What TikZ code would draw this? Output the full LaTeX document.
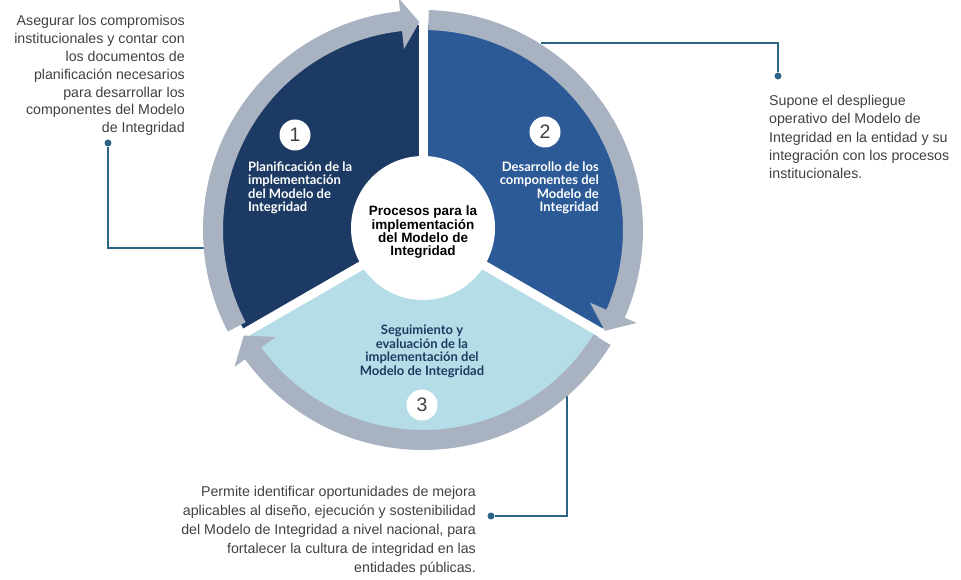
\documentclass[tikz,border=0pt]{standalone}
\usepackage{fontspec}
\setmainfont{Liberation Sans}
\newfontfamily\latofont{Lato}
\definecolor{secA}{HTML}{1C3A63}
\definecolor{secB}{HTML}{2B5A96}
\definecolor{secC}{HTML}{B5DDE8}
\definecolor{ringcol}{HTML}{A8B2C0}
\definecolor{navytxt}{HTML}{1F3A60}
\definecolor{linkcol}{HTML}{2C6487}
\definecolor{notetxt}{HTML}{404040}
\newcommand\ringarrow[3]{%
  \fill[ringcol] (#1:220) arc[start angle=#1, end angle=#2, radius=220pt]
    -- (#2:233) -- (#3:208) -- (#2:182) -- (#2:200)
    arc[start angle=#2, end angle=#1, radius=200pt] -- cycle;}
\tikzset{
  gapline/.style={white, line width=9pt},
  numcirc/.style={circle, fill=white, minimum size=31pt, inner sep=0pt,
    text=notetxt, font=\fontsize{19.5}{19.5}\selectfont},
  sectxt/.style={inner sep=0pt, font=\latofont\bfseries\fontsize{13}{13.5}\selectfont},
  notetext/.style={inner sep=0pt, text=notetxt},
  link/.style={linkcol, line width=1.6pt},
  linkdot/.style={circle, fill=linkcol, minimum size=7pt, inner sep=0pt}
}
\begin{document}
\begin{tikzpicture}[x=1pt,y=1pt]
\useasboundingbox (0,0) rectangle (961,580);
% connectors (behind the ring)
\node[linkdot] (ldot) at (108,437) {};
\coordinate (lend) at (206,332);
\draw[link] (ldot) |- (lend);
\node[linkdot] (rdot) at (778,504) {};
\coordinate (rend) at (541,537);
\draw[link] (rdot) |- (rend);
\node[linkdot] (bdot) at (491,64) {};
\coordinate (bend) at (567,186);
\draw[link] (bdot) -| (bend);
\begin{scope}[shift={(423,350)}]
  % sectors
  \fill[secA] (0,0) -- (90:205) arc[start angle=90, end angle=210, radius=205pt] -- cycle;
  \fill[secB] (0,0) -- (-30:205) arc[start angle=-30, end angle=90, radius=205pt] -- cycle;
  \fill[secC] (0,0) -- (210:205) arc[start angle=210, end angle=330, radius=205pt] -- cycle;
  \draw[gapline] (0,0) -- (90:207);
  \draw[gapline] (0,0) -- (-30:207);
  \draw[gapline] (0,0) -- (210:207);
  \fill[white] (0,2) circle[radius=72pt];
  % ring arrows
  \ringarrow{207.5}{96}{91}
  \ringarrow{88.5}{-23.5}{-29}
  \ringarrow{-31.5}{-144}{-149.5}
\end{scope}
% number badges
\node[numcirc] (n1) at (295,445) {1};
\node[numcirc] (n2) at (545,448) {2};
\node[numcirc] (n3) at (422,175) {3};
% sector texts
\node[sectxt, text=white, align=left, anchor=north west] (t1) at (248,418.5)
  {Planificación de la\\implementación\\del Modelo de\\Integridad};
\node[sectxt, text=white, align=right, anchor=north east] (t2) at (599,418.5)
  {Desarrollo de los\\componentes del\\Modelo de\\Integridad};
\node[sectxt, text=navytxt, align=center, anchor=north] (t3) at (422,255)
  {Seguimiento y\\evaluación de la\\implementación del\\Modelo de Integridad};
\node[inner sep=0pt, align=center, anchor=north, font=\bfseries\fontsize{13.5}{13.3}\selectfont] (tc) at (423,374)
  {Procesos para la\\implementación\\del Modelo de\\Integridad};
% notes
\node[notetext, align=right, anchor=north east, font=\fontsize{14.2}{17.8}\selectfont] (note1) at (185,564.5)
  {Asegurar los compromisos\\institucionales y contar con\\los documentos de\\planificación necesarios\\para desarrollar los\\componentes del Modelo\\de Integridad};
\node[notetext, align=left, anchor=north west, font=\fontsize{14.2}{18.3}\selectfont] (note2) at (769,485)
  {Supone el despliegue\\operativo del Modelo de\\Integridad en la entidad y su\\integración con los procesos\\institucionales.};
\node[notetext, align=right, anchor=north east, font=\fontsize{14.2}{19}\selectfont] (note3) at (476,94)
  {Permite identificar oportunidades de mejora\\aplicables al diseño, ejecución y sostenibilidad\\del Modelo de Integridad a nivel nacional, para\\fortalecer la cultura de integridad en las\\entidades públicas.};
\end{tikzpicture}
\end{document}
